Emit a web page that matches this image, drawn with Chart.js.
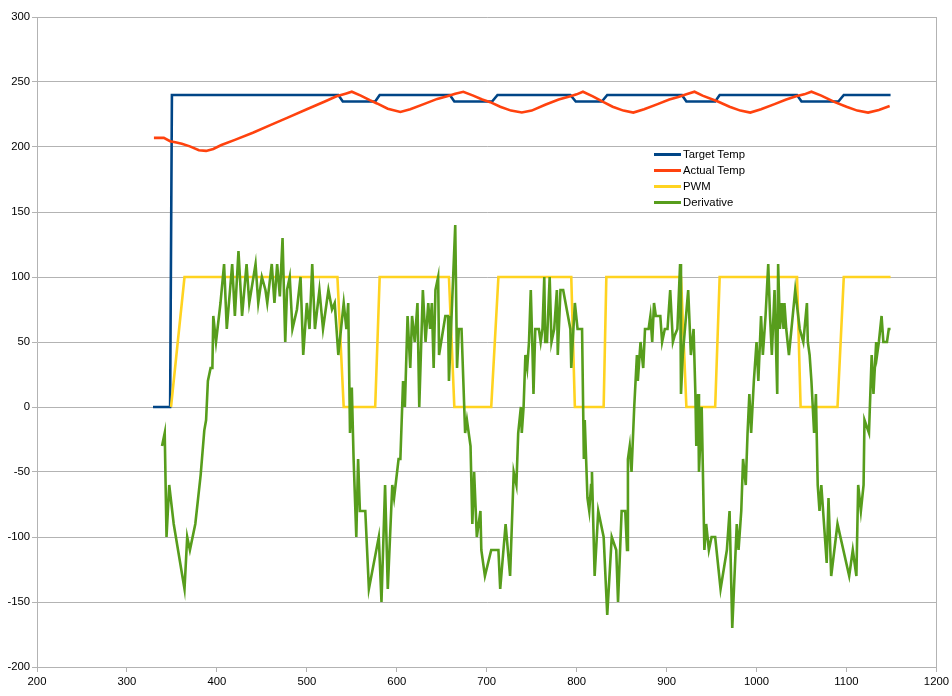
<!DOCTYPE html>
<html>
<head>
<meta charset="utf-8">
<script src="https://cdn.jsdelivr.net/npm/chart.js@4.4.1/dist/chart.umd.min.js"></script>
<style>
  html, body { margin: 0; padding: 0; background: #fff; }
  #wrap { position: relative; width: 952px; height: 696px; }
  #legenda { position: absolute; left: 654px; top: 146px; font: 11.3px "Liberation Sans", Arial, sans-serif; color: #000; }
  #legenda div { height: 16px; line-height: 16px; white-space: nowrap; }
  #legenda span.viiva { display: inline-block; width: 27px; height: 3px; vertical-align: middle; margin-right: 2px; position: relative; top: -1px; }
</style>
</head>
<body>
<div id="wrap">
  <canvas id="kaavio" width="952" height="696"></canvas>
  <div id="legenda"></div>
</div>
<script>
// sarjojen arvot luettu kuvasta
const sarjaNimet = ['Target Temp', 'Actual Temp', 'PWM', 'Derivative'];
const sarjaVarit = ['#004586', '#ff420e', '#ffd320', '#579d1c'];

const xTicks = [200, 300, 400, 500, 600, 700, 800, 900, 1000, 1100, 1200];
const yTicks = [-200, -150, -100, -50, 0, 50, 100, 150, 200, 250, 300];

const targetX = [329, 348, 350, 535, 540, 576, 581, 659, 664, 706, 712, 793, 799, 828, 834, 917, 922, 954, 959, 1045, 1050, 1091, 1097, 1149];
const targetY = [0, 0, 240, 240, 235, 235, 240, 240, 235, 235, 240, 240, 235, 235, 240, 240, 235, 235, 240, 240, 235, 235, 240, 240];

const actualX = [330, 341, 348, 355, 361, 370, 380, 388, 396, 405, 420, 440, 460, 480, 500, 520, 533, 543, 550, 560, 570, 578, 590, 604, 615, 630, 645, 656, 665, 674, 685, 695, 704, 715, 727, 739, 750, 765, 780, 793, 800, 807, 818, 830, 840, 852, 863, 875, 890, 903, 913, 922, 931, 940, 957, 970, 982, 993, 1005, 1020, 1033, 1044, 1053, 1061, 1072, 1087, 1100, 1112, 1124, 1136, 1148];
const actualY = [207, 207, 204.5, 203.5, 202.5, 200.5, 197.5, 197, 198.5, 201.5, 205.5, 211, 217, 223, 229, 235, 239, 241, 242.5, 239.5, 236, 233.5, 229.5, 227, 229, 233, 237, 239, 241, 242.5, 239.5, 236.5, 234.5, 231, 228, 226.5, 228, 232.5, 236.5, 239, 240.5, 242.5, 239, 234.5, 231, 228, 226.5, 229, 233, 236.5, 238.5, 240.5, 242.5, 239.5, 235, 231, 228, 226.5, 229, 233, 236.5, 239, 240.5, 242.5, 239.5, 234.5, 231, 228, 226.5, 228.5, 231.5];

const pwmX = [349, 364, 534, 541, 576, 581, 658, 664, 705, 713, 794, 798, 830, 833, 916, 922, 954, 959, 1045, 1049, 1090, 1097, 1149];
const pwmY = [0, 100, 100, 0, 0, 100, 100, 0, 0, 100, 100, 0, 0, 100, 100, 0, 0, 100, 100, 0, 0, 100, 100];

const derivX = [339, 342, 344, 347, 352, 364, 367, 370, 376, 382, 386, 388, 390, 393, 395, 396, 399, 404, 408, 411, 417, 420, 424, 428, 433, 436, 443, 446, 450, 454, 456, 461, 464, 467, 470, 473, 476, 478, 481, 484, 489, 493, 496, 500, 503, 506, 509, 514, 518, 524, 528, 531, 535, 541, 544, 546, 548, 550, 552, 555, 557, 559, 565, 569, 580, 583, 587, 590, 595, 597, 602, 604, 607, 609, 612, 615, 617, 620, 623, 625, 629, 632, 635, 637, 639, 641, 643, 646, 647, 654, 657, 658, 665, 667, 669, 672, 676, 678, 682, 684, 686, 689, 693, 694, 698, 705, 713, 715, 721, 726, 730, 733, 735, 738, 739, 741, 743, 745, 747, 749, 751, 752, 754, 758, 760, 762, 764, 765, 767, 770, 772, 775, 778, 779, 782, 785, 793, 794, 798, 801, 806, 808, 809, 812, 814, 816, 817, 820, 824, 830, 834, 839, 844, 846, 850, 854, 856, 857, 859, 861, 864, 867, 868, 870, 871, 874, 876, 880, 882, 884, 886, 888, 893, 895, 898, 901, 904, 907, 909, 912, 915, 916, 918, 924, 927, 930, 932, 933, 935, 936, 939, 942, 944, 947, 950, 954, 960, 967, 970, 973, 978, 980, 983, 985, 988, 990, 992, 994, 997, 1000, 1002, 1005, 1007, 1010, 1013, 1015, 1017, 1020, 1023, 1024, 1026, 1028, 1030, 1031, 1033, 1036, 1043, 1048, 1052, 1056, 1057, 1059, 1061, 1064, 1066, 1068, 1070, 1072, 1074, 1078, 1080, 1083, 1090, 1103, 1107, 1111, 1113, 1116, 1119, 1120, 1125, 1128, 1130, 1133, 1134, 1136, 1139, 1141, 1145, 1147, 1149];
const derivY = [-30, -20, -100, -60, -90, -140, -100, -110, -90, -52, -18, -10, 20, 30, 30, 70, 50, 80, 110, 60, 110, 70, 120, 70, 110, 80, 110, 80, 100, 90, 80, 110, 80, 110, 85, 130, 50, 90, 100, 60, 75, 100, 40, 80, 60, 110, 60, 90, 60, 90, 75, 80, 40, 80, 60, 80, -20, 15, -40, -100, -40, -80, -80, -140, -100, -150, -60, -140, -60, -70, -40, -40, 20, 0, 70, 30, 70, 50, 80, 0, 90, 50, 80, 60, 80, 30, 90, 100, 40, 70, 70, 20, 140, 30, 60, 60, -20, -10, -30, -90, -50, -100, -80, -110, -130, -110, -110, -140, -90, -130, -50, -60, -20, 0, -20, 0, 40, 30, 50, 90, 40, 10, 60, 60, 50, 60, 100, 50, 50, 100, 50, 60, 90, 40, 90, 90, 60, 30, 80, 60, 60, -40, -10, -70, -80, -60, -50, -130, -80, -100, -160, -100, -110, -150, -80, -80, -110, -40, -30, -50, 0, 40, 20, 40, 50, 30, 60, 60, 70, 50, 80, 70, 70, 50, 60, 60, 90, 50, 55, 60, 110, 10, 40, 90, 40, 60, 10, -30, 10, -50, 0, -110, -90, -110, -100, -100, -140, -110, -80, -170, -90, -110, -80, -40, -60, -20, 10, -20, 20, 50, 20, 70, 40, 70, 110, 70, 40, 90, 10, 110, 60, 80, 60, 80, 60, 40, 90, 60, 50, 80, 50, 40, 20, -20, 10, -60, -80, -60, -80, -120, -70, -130, -90, -130, -110, -130, -60, -80, -60, -10, -20, 40, 10, 50, 40, 50, 70, 50, 50, 60, 60];

const pisteet = (xs, ys) => xs.map((x, i) => ({ x: x, y: ys[i] }));
const sarjaData = [
  pisteet(targetX, targetY),
  pisteet(actualX, actualY),
  pisteet(pwmX, pwmY),
  pisteet(derivX, derivY)
];

const fontti = { family: "'Liberation Sans', Arial, sans-serif", size: 11.3 };
const ruudukko = '#b3b3b3';

new Chart(document.getElementById('kaavio'), {
  type: 'line',
  data: {
    datasets: sarjaNimet.map((nimi, i) => ({
      label: nimi,
      data: sarjaData[i],
      borderColor: sarjaVarit[i],
      backgroundColor: sarjaVarit[i],
      borderWidth: 2.6,
      pointRadius: 0,
      tension: 0,
      fill: false,
      order: 3 - i
    }))
  },
  options: {
    responsive: false,
    animation: false,
    devicePixelRatio: 1,
    layout: { padding: { left: 0, top: 17, right: 15, bottom: 0 } },
    plugins: { legend: { display: false }, tooltip: { enabled: false } },
    scales: {
      x: {
        type: 'linear',
        min: 200,
        max: 1200,
        afterBuildTicks: (s) => { s.ticks = xTicks.map(v => ({ value: v })); },
        afterFit: (s) => { s.height = 29; },
        border: { color: ruudukko },
        grid: {
          color: (c) => (c.tick && c.tick.value === 1200) ? ruudukko : 'rgba(0,0,0,0)',
          tickColor: ruudukko,
          tickLength: 5
        },
        ticks: { color: '#000', font: fontti, padding: 3, maxRotation: 0, callback: (v) => String(v) }
      },
      y: {
        min: -200,
        max: 300,
        afterBuildTicks: (s) => { s.ticks = yTicks.map(v => ({ value: v })); },
        afterFit: (s) => { s.width = 37; },
        border: { color: ruudukko },
        grid: { color: ruudukko, tickColor: ruudukko, tickLength: 5 },
        ticks: { color: '#000', font: fontti, padding: 2, callback: (v) => String(v) }
      }
    }
  }
});

// selite kaavion sisään
const legenda = document.getElementById('legenda');
sarjaNimet.forEach((nimi, i) => {
  const rivi = document.createElement('div');
  const viiva = document.createElement('span');
  viiva.className = 'viiva';
  viiva.style.background = sarjaVarit[i];
  rivi.appendChild(viiva);
  rivi.appendChild(document.createTextNode(nimi));
  legenda.appendChild(rivi);
});
</script>
</body>
</html>
